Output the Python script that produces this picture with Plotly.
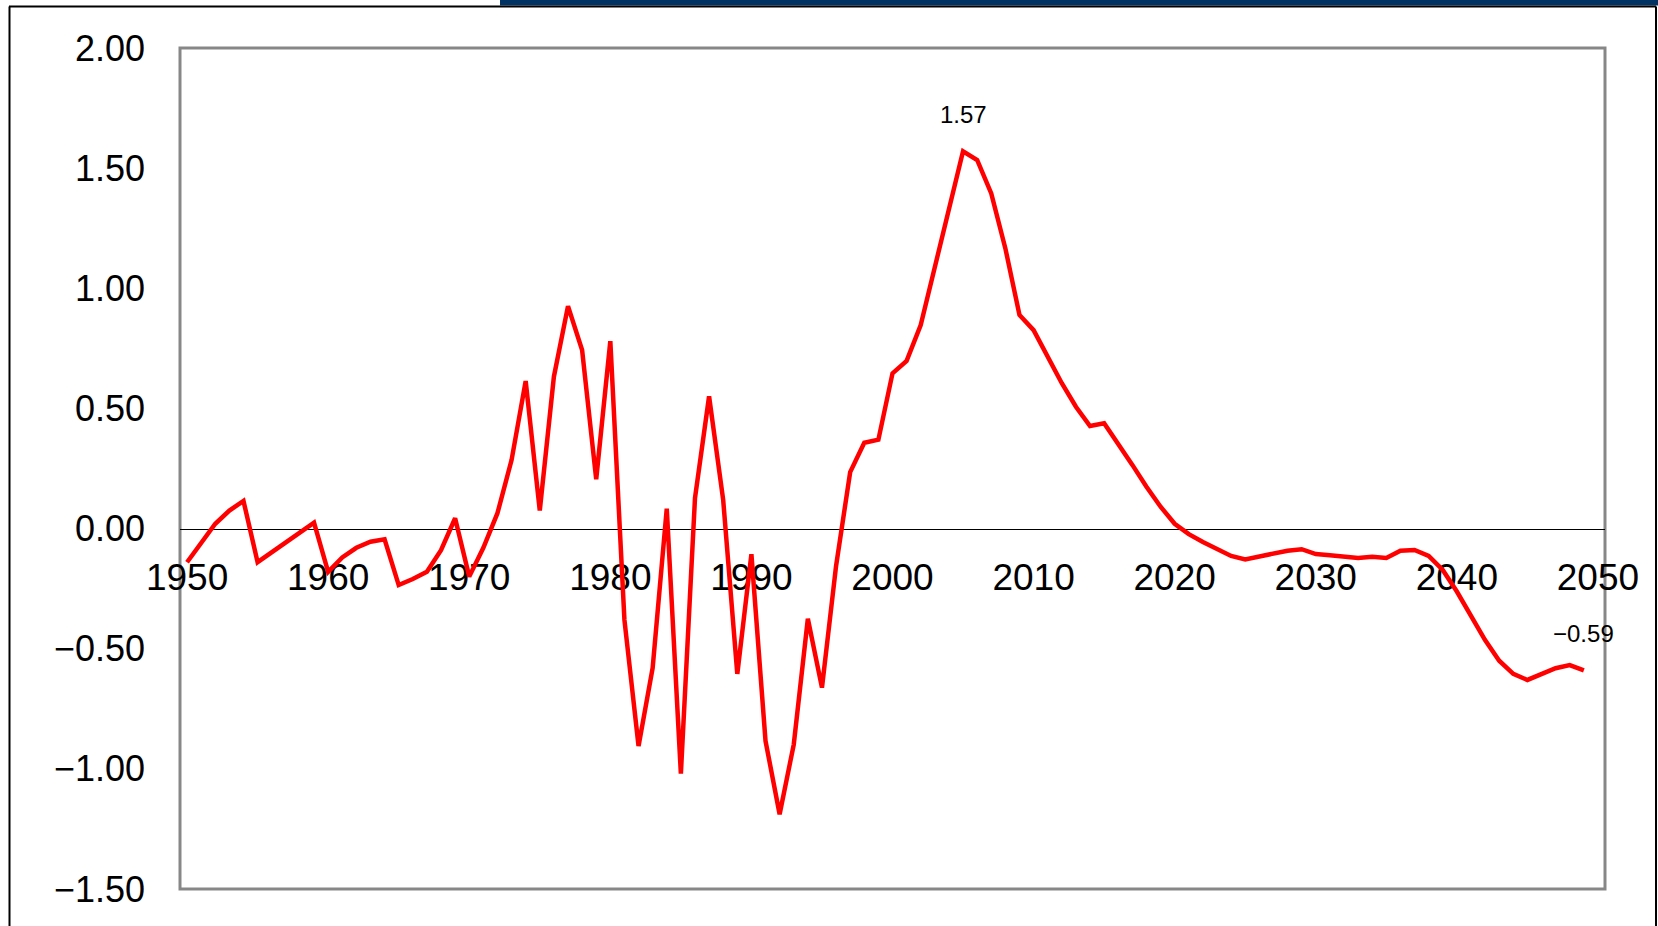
import plotly.graph_objects as go

# años 1950-2049 (la última categoría 2050 no tiene dato)
years = list(range(1950, 2050))
values = [
    -0.14, -0.06, 0.02, 0.075, 0.115, -0.14, -0.10, -0.06, -0.02, 0.025,
    -0.18, -0.12, -0.08, -0.055, -0.045, -0.235, -0.21, -0.18, -0.09, 0.043,
    -0.20, -0.08, 0.064, 0.285, 0.614, 0.075, 0.632, 0.926, 0.743, 0.205,
    0.78, -0.38, -0.905, -0.58, 0.083, -1.02, 0.126, 0.55, 0.119, -0.605,
    -0.107, -0.884, -1.189, -0.899, -0.375, -0.662, -0.156, 0.235, 0.357, 0.37,
    0.646, 0.698, 0.847, 1.09, 1.34, 1.57, 1.534, 1.395, 1.166, 0.889,
    0.826, 0.715, 0.605, 0.507, 0.427, 0.438, 0.355, 0.265, 0.174, 0.091,
    0.02, -0.023, -0.056, -0.086, -0.114, -0.128, -0.117, -0.106, -0.092, -0.086,
    -0.106, -0.111, -0.117, -0.122, -0.117, -0.122, -0.092, -0.089, -0.114, -0.172,
    -0.262, -0.36, -0.464, -0.55, -0.605, -0.63, -0.605, -0.581, -0.568, -0.59,
]

x_ticks = list(range(1950, 2051, 10))
y_ticks = [-1.5, -1.0, -0.5, 0.0, 0.5, 1.0, 1.5, 2.0]
y_min, y_max = -1.5, 2.0

# puntos con etiqueta de dato
label_years = [2005, 2049]

fig = go.Figure()

fig.add_trace(go.Scatter(
    x=years,
    y=values,
    mode='lines',
    line=dict(color='#FF0000', width=4.5),
    showlegend=False,
    hoverinfo='x+y',
))

for yr in label_years:
    v = values[years.index(yr)]
    fig.add_annotation(
        x=yr, y=v,
        text=f"{v:.2f}".replace('-', '\u2212'),
        showarrow=False,
        yshift=37,
        font=dict(size=24, color='black'),
    )

# marco gris del área del gráfico
fig.add_shape(type='rect', xref='paper', yref='paper', x0=0, x1=1, y0=0, y1=1,
              line=dict(color='#878787', width=3), layer='below')

# bordes de la diapositiva (línea negra y franja azul arriba)
fig.add_shape(type='rect', xref='paper', yref='paper',
              x0=(500 - 180) / 1425, x1=(1660 - 180) / 1425,
              y0=(889 - 5.5) / 841, y1=(889 + 2) / 841,
              line=dict(width=0), fillcolor='#003263')
fig.add_shape(type='line', xref='paper', yref='paper',
              x0=(9 - 180) / 1425, x1=(1656 - 180) / 1425,
              y0=(889 - 6.5) / 841, y1=(889 - 6.5) / 841,
              line=dict(color='black', width=2))
fig.add_shape(type='line', xref='paper', yref='paper',
              x0=(9.5 - 180) / 1425, x1=(9.5 - 180) / 1425,
              y0=(889 - 930) / 841, y1=(889 - 6.5) / 841,
              line=dict(color='black', width=2))
fig.add_shape(type='line', xref='paper', yref='paper',
              x0=(1656 - 180) / 1425, x1=(1656 - 180) / 1425,
              y0=(889 - 930) / 841, y1=(889 - 6.5) / 841,
              line=dict(color='black', width=2))

fig.update_layout(
    width=1658,
    height=926,
    margin=dict(l=180, r=53, t=48, b=37),
    plot_bgcolor='white',
    paper_bgcolor='white',
    font=dict(family='Liberation Sans, Arial, sans-serif', color='black'),
    xaxis=dict(
        range=[1949.5, 2050.5],
        tickvals=x_ticks,
        anchor='free',
        position=(0 - y_min) / (y_max - y_min),
        showline=True, linecolor='black', linewidth=1,
        showgrid=False, zeroline=False,
        ticks='',
        ticklabelstandoff=16,
        tickfont=dict(size=37),
        layer='below traces',
    ),
    yaxis=dict(
        range=[y_min, y_max],
        tickvals=y_ticks,
        tickformat='.2f',
        showgrid=False, zeroline=False, showline=False,
        ticks='',
        ticklabelstandoff=34,
        tickfont=dict(size=36),
    ),
)

# quitar el margen por defecto del body para que la figura quede en (0, 0)
fig.write_html("out.html", config={'displayModeBar': False},
               post_script="document.body.style.margin='0';")
